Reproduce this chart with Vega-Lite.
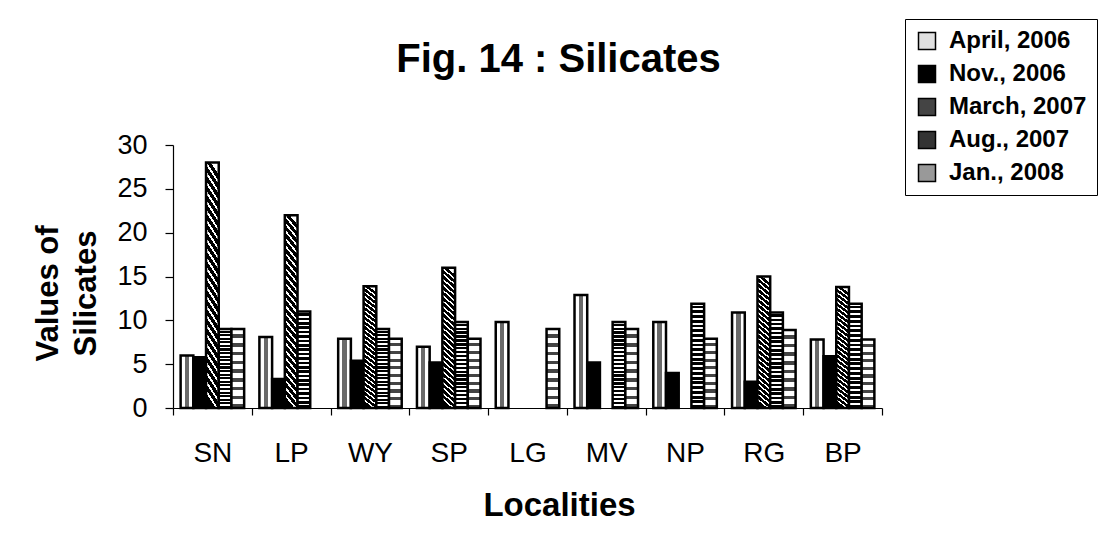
{
  "$schema": "https://vega.github.io/schema/vega-lite/v6.json",
  "width": 709,
  "height": 263,
  "autosize": "none",
  "padding": {"left": 173, "top": 145, "right": 222, "bottom": 145},
  "background": "white",
  "title": {"text": "Fig. 14 : Silicates", "fontSize": 40, "fontWeight": "bold", "font": "Liberation Sans", "color": "black", "anchor": "middle", "frame": "group", "dx": 31, "baseline": "alphabetic", "offset": -93},
  "data": {"values": [
    {"loc": "SN", "series": "April, 2006", "value": 6},
    {"loc": "SN", "series": "Nov., 2006", "value": 5.8},
    {"loc": "SN", "series": "March, 2007", "value": 28},
    {"loc": "SN", "series": "Aug., 2007", "value": 9},
    {"loc": "SN", "series": "Jan., 2008", "value": 9},
    {"loc": "LP", "series": "April, 2006", "value": 8.1},
    {"loc": "LP", "series": "Nov., 2006", "value": 3.3},
    {"loc": "LP", "series": "March, 2007", "value": 22},
    {"loc": "LP", "series": "Aug., 2007", "value": 11},
    {"loc": "WY", "series": "April, 2006", "value": 7.9},
    {"loc": "WY", "series": "Nov., 2006", "value": 5.4},
    {"loc": "WY", "series": "March, 2007", "value": 13.9},
    {"loc": "WY", "series": "Aug., 2007", "value": 9},
    {"loc": "WY", "series": "Jan., 2008", "value": 7.9},
    {"loc": "SP", "series": "April, 2006", "value": 7},
    {"loc": "SP", "series": "Nov., 2006", "value": 5.2},
    {"loc": "SP", "series": "March, 2007", "value": 16},
    {"loc": "SP", "series": "Aug., 2007", "value": 9.8},
    {"loc": "SP", "series": "Jan., 2008", "value": 7.9},
    {"loc": "LG", "series": "April, 2006", "value": 9.8},
    {"loc": "LG", "series": "Jan., 2008", "value": 9},
    {"loc": "MV", "series": "April, 2006", "value": 12.9},
    {"loc": "MV", "series": "Nov., 2006", "value": 5.2},
    {"loc": "MV", "series": "Aug., 2007", "value": 9.8},
    {"loc": "MV", "series": "Jan., 2008", "value": 9},
    {"loc": "NP", "series": "April, 2006", "value": 9.8},
    {"loc": "NP", "series": "Nov., 2006", "value": 4},
    {"loc": "NP", "series": "Aug., 2007", "value": 11.9},
    {"loc": "NP", "series": "Jan., 2008", "value": 7.9},
    {"loc": "RG", "series": "April, 2006", "value": 10.9},
    {"loc": "RG", "series": "Nov., 2006", "value": 3},
    {"loc": "RG", "series": "March, 2007", "value": 15},
    {"loc": "RG", "series": "Aug., 2007", "value": 10.9},
    {"loc": "RG", "series": "Jan., 2008", "value": 8.9},
    {"loc": "BP", "series": "April, 2006", "value": 7.8},
    {"loc": "BP", "series": "Nov., 2006", "value": 5.9},
    {"loc": "BP", "series": "March, 2007", "value": 13.8},
    {"loc": "BP", "series": "Aug., 2007", "value": 11.9},
    {"loc": "BP", "series": "Jan., 2008", "value": 7.8}
  ]},
  "encoding": {
    "x": {
      "field": "loc", "type": "nominal",
      "sort": ["SN", "LP", "WY", "SP", "LG", "MV", "NP", "RG", "BP"],
      "scale": {"paddingInner": 0, "paddingOuter": 0},
      "axis": {
        "labelAngle": 0, "labelFont": "Liberation Sans", "labelFontSize": 28, "labelColor": "black",
        "labelPadding": 24, "tickSize": 7, "tickColor": "black", "tickBand": "extent",
        "domainColor": "black", "domainWidth": 1.2, "tickWidth": 1.2,
        "title": "Localities", "titleFont": "Liberation Sans", "titleFontSize": 33, "titleFontWeight": "bold", "titleColor": "black",
        "titleX": 386, "titleY": 107, "titleAlign": "center", "titleBaseline": "alphabetic", "titleAnchor": null
      }
    },
    "xOffset": {
      "field": "series", "type": "nominal",
      "scale": {"domain": ["April, 2006", "Nov., 2006", "March, 2007", "Aug., 2007", "Jan., 2008"], "paddingInner": 0, "paddingOuter": 0.6}
    },
    "y": {
      "field": "value", "type": "quantitative",
      "scale": {"domain": [0, 30], "nice": false},
      "axis": {
        "values": [0, 5, 10, 15, 20, 25, 30], "grid": false,
        "labelFont": "Liberation Sans", "labelFontSize": 27, "labelColor": "black", "labelPadding": 18,
        "tickSize": 8, "tickColor": "black", "tickWidth": 1.2, "domainColor": "black", "domainWidth": 1.2,
        "title": ["Values of", "Silicates"], "titleFont": "Liberation Sans", "titleFontSize": 31, "titleFontWeight": "bold", "titleColor": "black",
        "titleLineHeight": 38, "titleX": -116, "titleY": 148, "titleAlign": "center", "titleBaseline": "alphabetic", "titleAnchor": null
      }
    }
  },
  "layer": [
    {
      "mark": {"type": "bar", "strokeWidth": 0},
      "encoding": {
        "fill": {
          "field": "series", "type": "nominal",
          "scale": {
            "domain": ["April, 2006", "Nov., 2006", "March, 2007", "Aug., 2007", "Jan., 2008"],
            "range": ["#e0e0e0", "#000000", "#444444", "#333333", "#999999"]
          },
          "legend": {
            "orient": "none", "legendX": 732, "legendY": -126, "title": null,
            "labelFont": "Liberation Sans", "labelFontSize": 24, "labelFontWeight": "bold", "labelColor": "black",
            "symbolType": "square", "symbolSize": 289, "symbolStrokeColor": "black", "symbolStrokeWidth": 1.5,
            "strokeColor": "black", "padding": 10, "rowPadding": 9, "labelOffset": 10,
            "fillColor": "white"
          }
        }
      }
    },
    {
      "mark": {"type": "bar", "stroke": "black", "strokeWidth": 2.5},
      "encoding": {
        "fill": {
          "condition": [
            {"test": "datum.series === 'April, 2006'", "value": {"gradient": "linear", "x1": 0, "y1": 0, "x2": 1, "y2": 0, "stops": [
              {"offset": 0, "color": "#ffffff"}, {"offset": 0.33, "color": "#ffffff"},
              {"offset": 0.33, "color": "#6a6a6a"}, {"offset": 0.67, "color": "#6a6a6a"},
              {"offset": 0.67, "color": "#ffffff"}, {"offset": 1, "color": "#ffffff"}]}},
            {"test": "datum.series === 'March, 2007'", "value": {"gradient": "linear", "x1": 0.54, "y1": 0, "x2": 0.46, "y2": 1, "stops": [
              {"offset": 0, "color": "#fff"}, {"offset": 0.0135, "color": "#fff"}, {"offset": 0.0135, "color": "#000"}, {"offset": 0.0385, "color": "#000"},
              {"offset": 0.0385, "color": "#fff"}, {"offset": 0.0519, "color": "#fff"}, {"offset": 0.0519, "color": "#000"}, {"offset": 0.0769, "color": "#000"},
              {"offset": 0.0769, "color": "#fff"}, {"offset": 0.0904, "color": "#fff"}, {"offset": 0.0904, "color": "#000"}, {"offset": 0.1154, "color": "#000"},
              {"offset": 0.1154, "color": "#fff"}, {"offset": 0.1288, "color": "#fff"}, {"offset": 0.1288, "color": "#000"}, {"offset": 0.1538, "color": "#000"},
              {"offset": 0.1538, "color": "#fff"}, {"offset": 0.1673, "color": "#fff"}, {"offset": 0.1673, "color": "#000"}, {"offset": 0.1923, "color": "#000"},
              {"offset": 0.1923, "color": "#fff"}, {"offset": 0.2058, "color": "#fff"}, {"offset": 0.2058, "color": "#000"}, {"offset": 0.2308, "color": "#000"},
              {"offset": 0.2308, "color": "#fff"}, {"offset": 0.2442, "color": "#fff"}, {"offset": 0.2442, "color": "#000"}, {"offset": 0.2692, "color": "#000"},
              {"offset": 0.2692, "color": "#fff"}, {"offset": 0.2827, "color": "#fff"}, {"offset": 0.2827, "color": "#000"}, {"offset": 0.3077, "color": "#000"},
              {"offset": 0.3077, "color": "#fff"}, {"offset": 0.3212, "color": "#fff"}, {"offset": 0.3212, "color": "#000"}, {"offset": 0.3462, "color": "#000"},
              {"offset": 0.3462, "color": "#fff"}, {"offset": 0.3596, "color": "#fff"}, {"offset": 0.3596, "color": "#000"}, {"offset": 0.3846, "color": "#000"},
              {"offset": 0.3846, "color": "#fff"}, {"offset": 0.3981, "color": "#fff"}, {"offset": 0.3981, "color": "#000"}, {"offset": 0.4231, "color": "#000"},
              {"offset": 0.4231, "color": "#fff"}, {"offset": 0.4365, "color": "#fff"}, {"offset": 0.4365, "color": "#000"}, {"offset": 0.4615, "color": "#000"},
              {"offset": 0.4615, "color": "#fff"}, {"offset": 0.475, "color": "#fff"}, {"offset": 0.475, "color": "#000"}, {"offset": 0.5, "color": "#000"},
              {"offset": 0.5, "color": "#fff"}, {"offset": 0.5135, "color": "#fff"}, {"offset": 0.5135, "color": "#000"}, {"offset": 0.5385, "color": "#000"},
              {"offset": 0.5385, "color": "#fff"}, {"offset": 0.5519, "color": "#fff"}, {"offset": 0.5519, "color": "#000"}, {"offset": 0.5769, "color": "#000"},
              {"offset": 0.5769, "color": "#fff"}, {"offset": 0.5904, "color": "#fff"}, {"offset": 0.5904, "color": "#000"}, {"offset": 0.6154, "color": "#000"},
              {"offset": 0.6154, "color": "#fff"}, {"offset": 0.6288, "color": "#fff"}, {"offset": 0.6288, "color": "#000"}, {"offset": 0.6538, "color": "#000"},
              {"offset": 0.6538, "color": "#fff"}, {"offset": 0.6673, "color": "#fff"}, {"offset": 0.6673, "color": "#000"}, {"offset": 0.6923, "color": "#000"},
              {"offset": 0.6923, "color": "#fff"}, {"offset": 0.7058, "color": "#fff"}, {"offset": 0.7058, "color": "#000"}, {"offset": 0.7308, "color": "#000"},
              {"offset": 0.7308, "color": "#fff"}, {"offset": 0.7442, "color": "#fff"}, {"offset": 0.7442, "color": "#000"}, {"offset": 0.7692, "color": "#000"},
              {"offset": 0.7692, "color": "#fff"}, {"offset": 0.7827, "color": "#fff"}, {"offset": 0.7827, "color": "#000"}, {"offset": 0.8077, "color": "#000"},
              {"offset": 0.8077, "color": "#fff"}, {"offset": 0.8212, "color": "#fff"}, {"offset": 0.8212, "color": "#000"}, {"offset": 0.8462, "color": "#000"},
              {"offset": 0.8462, "color": "#fff"}, {"offset": 0.8596, "color": "#fff"}, {"offset": 0.8596, "color": "#000"}, {"offset": 0.8846, "color": "#000"},
              {"offset": 0.8846, "color": "#fff"}, {"offset": 0.8981, "color": "#fff"}, {"offset": 0.8981, "color": "#000"}, {"offset": 0.9231, "color": "#000"},
              {"offset": 0.9231, "color": "#fff"}, {"offset": 0.9365, "color": "#fff"}, {"offset": 0.9365, "color": "#000"}, {"offset": 0.9615, "color": "#000"},
              {"offset": 0.9615, "color": "#fff"}, {"offset": 0.975, "color": "#fff"}, {"offset": 0.975, "color": "#000"}, {"offset": 1, "color": "#000"}]}},
            {"test": "datum.series === 'Aug., 2007'", "value": {"gradient": "linear", "x1": 0, "y1": 0, "x2": 0, "y2": 1, "stops": [
              {"offset": 0, "color": "#fff"}, {"offset": 0.0182, "color": "#fff"}, {"offset": 0.0182, "color": "#000"}, {"offset": 0.0455, "color": "#000"},
              {"offset": 0.0455, "color": "#fff"}, {"offset": 0.0636, "color": "#fff"}, {"offset": 0.0636, "color": "#000"}, {"offset": 0.0909, "color": "#000"},
              {"offset": 0.0909, "color": "#fff"}, {"offset": 0.1091, "color": "#fff"}, {"offset": 0.1091, "color": "#000"}, {"offset": 0.1364, "color": "#000"},
              {"offset": 0.1364, "color": "#fff"}, {"offset": 0.1545, "color": "#fff"}, {"offset": 0.1545, "color": "#000"}, {"offset": 0.1818, "color": "#000"},
              {"offset": 0.1818, "color": "#fff"}, {"offset": 0.2, "color": "#fff"}, {"offset": 0.2, "color": "#000"}, {"offset": 0.2273, "color": "#000"},
              {"offset": 0.2273, "color": "#fff"}, {"offset": 0.2455, "color": "#fff"}, {"offset": 0.2455, "color": "#000"}, {"offset": 0.2727, "color": "#000"},
              {"offset": 0.2727, "color": "#fff"}, {"offset": 0.2909, "color": "#fff"}, {"offset": 0.2909, "color": "#000"}, {"offset": 0.3182, "color": "#000"},
              {"offset": 0.3182, "color": "#fff"}, {"offset": 0.3364, "color": "#fff"}, {"offset": 0.3364, "color": "#000"}, {"offset": 0.3636, "color": "#000"},
              {"offset": 0.3636, "color": "#fff"}, {"offset": 0.3818, "color": "#fff"}, {"offset": 0.3818, "color": "#000"}, {"offset": 0.4091, "color": "#000"},
              {"offset": 0.4091, "color": "#fff"}, {"offset": 0.4273, "color": "#fff"}, {"offset": 0.4273, "color": "#000"}, {"offset": 0.4545, "color": "#000"},
              {"offset": 0.4545, "color": "#fff"}, {"offset": 0.4727, "color": "#fff"}, {"offset": 0.4727, "color": "#000"}, {"offset": 0.5, "color": "#000"},
              {"offset": 0.5, "color": "#fff"}, {"offset": 0.5182, "color": "#fff"}, {"offset": 0.5182, "color": "#000"}, {"offset": 0.5455, "color": "#000"},
              {"offset": 0.5455, "color": "#fff"}, {"offset": 0.5636, "color": "#fff"}, {"offset": 0.5636, "color": "#000"}, {"offset": 0.5909, "color": "#000"},
              {"offset": 0.5909, "color": "#fff"}, {"offset": 0.6091, "color": "#fff"}, {"offset": 0.6091, "color": "#000"}, {"offset": 0.6364, "color": "#000"},
              {"offset": 0.6364, "color": "#fff"}, {"offset": 0.6545, "color": "#fff"}, {"offset": 0.6545, "color": "#000"}, {"offset": 0.6818, "color": "#000"},
              {"offset": 0.6818, "color": "#fff"}, {"offset": 0.7, "color": "#fff"}, {"offset": 0.7, "color": "#000"}, {"offset": 0.7273, "color": "#000"},
              {"offset": 0.7273, "color": "#fff"}, {"offset": 0.7455, "color": "#fff"}, {"offset": 0.7455, "color": "#000"}, {"offset": 0.7727, "color": "#000"},
              {"offset": 0.7727, "color": "#fff"}, {"offset": 0.7909, "color": "#fff"}, {"offset": 0.7909, "color": "#000"}, {"offset": 0.8182, "color": "#000"},
              {"offset": 0.8182, "color": "#fff"}, {"offset": 0.8364, "color": "#fff"}, {"offset": 0.8364, "color": "#000"}, {"offset": 0.8636, "color": "#000"},
              {"offset": 0.8636, "color": "#fff"}, {"offset": 0.8818, "color": "#fff"}, {"offset": 0.8818, "color": "#000"}, {"offset": 0.9091, "color": "#000"},
              {"offset": 0.9091, "color": "#fff"}, {"offset": 0.9273, "color": "#fff"}, {"offset": 0.9273, "color": "#000"}, {"offset": 0.9545, "color": "#000"},
              {"offset": 0.9545, "color": "#fff"}, {"offset": 0.9727, "color": "#fff"}, {"offset": 0.9727, "color": "#000"}, {"offset": 1, "color": "#000"}]}},
            {"test": "datum.series === 'Jan., 2008'", "value": {"gradient": "linear", "x1": 0, "y1": 0, "x2": 0, "y2": 1, "stops": [
              {"offset": 0, "color": "#fff"}, {"offset": 0.065, "color": "#fff"}, {"offset": 0.065, "color": "#444"}, {"offset": 0.111, "color": "#444"},
              {"offset": 0.111, "color": "#fff"}, {"offset": 0.176, "color": "#fff"}, {"offset": 0.176, "color": "#444"}, {"offset": 0.222, "color": "#444"},
              {"offset": 0.222, "color": "#fff"}, {"offset": 0.287, "color": "#fff"}, {"offset": 0.287, "color": "#444"}, {"offset": 0.333, "color": "#444"},
              {"offset": 0.333, "color": "#fff"}, {"offset": 0.398, "color": "#fff"}, {"offset": 0.398, "color": "#444"}, {"offset": 0.444, "color": "#444"},
              {"offset": 0.444, "color": "#fff"}, {"offset": 0.509, "color": "#fff"}, {"offset": 0.509, "color": "#444"}, {"offset": 0.556, "color": "#444"},
              {"offset": 0.556, "color": "#fff"}, {"offset": 0.62, "color": "#fff"}, {"offset": 0.62, "color": "#444"}, {"offset": 0.667, "color": "#444"},
              {"offset": 0.667, "color": "#fff"}, {"offset": 0.731, "color": "#fff"}, {"offset": 0.731, "color": "#444"}, {"offset": 0.778, "color": "#444"},
              {"offset": 0.778, "color": "#fff"}, {"offset": 0.843, "color": "#fff"}, {"offset": 0.843, "color": "#444"}, {"offset": 0.889, "color": "#444"},
              {"offset": 0.889, "color": "#fff"}, {"offset": 0.954, "color": "#fff"}, {"offset": 0.954, "color": "#444"}, {"offset": 1, "color": "#444"}]}}
          ],
          "value": "#000000"
        }
      }
    }
  ],
  "config": {"view": {"stroke": null}, "font": "Liberation Sans"}
}
